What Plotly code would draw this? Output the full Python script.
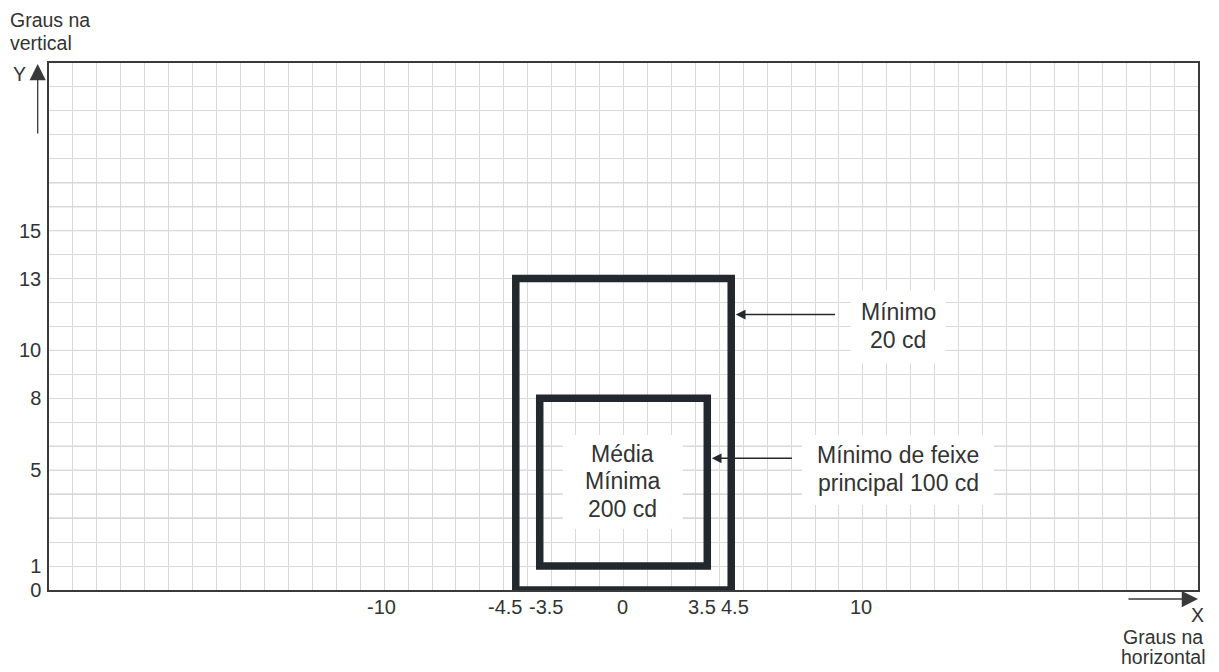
import plotly.graph_objects as go

# ---------------- data ----------------
x_range = [-24, 24]
y_range = [0, 22]
x_tick_values = [-10, -4.5, -3.5, 0, 3.5, 4.5, 10]
x_tick_labels = ["-10", "-4.5", "-3.5", "0", "3.5", "4.5", "10"]
y_tick_values = [0, 1, 5, 8, 10, 13, 15]
y_tick_labels = ["0", "1", "5", "8", "10", "13", "15"]

zone_names = ["Mínimo 20 cd", "Mínimo de feixe principal 100 cd"]
zone_x0 = [-4.5, -3.5]
zone_x1 = [4.5, 3.5]
zone_y0 = [0, 1]
zone_y1 = [13, 8]

callout_lines = [["Mínimo", "20 cd"],
                 ["Mínimo de feixe", "principal 100 cd"],
                 ["Média", "Mínima", "200 cd"]]
emphasis_rows = [3, 4, 6, 10, 11, 16, 17]
medium_rows = [5, 15]

# ---------------- style ----------------
FONT = "Liberation Sans, Arial, sans-serif"
TXT = "#333333"
BOX = "#23282e"
W, H = 1219, 672
L, R, T, B = 49, 21, 63, 82
PW, PH = W - L - R, H - T - B


def px(xp):
    return (xp - L) / PW


def py(yp):
    return (H - B - yp) / PH


fig = go.Figure()

shapes = []
for yv in emphasis_rows:
    shapes.append(dict(type="line", xref="x", yref="y", x0=x_range[0], x1=x_range[1], y0=yv, y1=yv,
                       line=dict(color="#b0b0b0", width=1), layer="below"))
for yv in medium_rows:
    shapes.append(dict(type="line", xref="x", yref="y", x0=x_range[0], x1=x_range[1], y0=yv, y1=yv,
                       line=dict(color="#c4c4c4", width=1), layer="below"))

# callout placement: (x centre [data], y centre [data], box width px, box height px)
callout_pos = [(11.47, 10.98, 95, 73), (11.47, 5.01, 192, 70), (-0.03, 4.5, 120, 94)]
LINE_PITCH = 27.5
for (cx, cy, bw, bh) in callout_pos:
    shapes.append(dict(type="rect", xref="x", yref="y", xsizemode="pixel", ysizemode="pixel",
                       xanchor=cx, yanchor=cy, x0=-bw / 2, x1=bw / 2, y0=-bh / 2, y1=bh / 2,
                       fillcolor="white", line=dict(width=0), layer="above"))

for i in range(len(zone_names)):
    shapes.append(dict(type="rect", xref="x", yref="y",
                       x0=zone_x0[i], x1=zone_x1[i], y0=zone_y0[i], y1=zone_y1[i],
                       line=dict(color=BOX, width=7.5), fillcolor="rgba(0,0,0,0)", layer="above"))

# invisible traces carrying the zones (hover names)
for i in range(len(zone_names)):
    fig.add_trace(go.Scatter(
        x=[zone_x0[i], zone_x1[i], zone_x1[i], zone_x0[i], zone_x0[i]],
        y=[zone_y0[i], zone_y0[i], zone_y1[i], zone_y1[i], zone_y0[i]],
        mode="lines", line=dict(color="rgba(0,0,0,0)", width=1),
        name=zone_names[i], hoverinfo="name", showlegend=False))

annotations = []

# x tick labels (nudged apart where they would collide)
x_nudge = {-10: -3, -4.5: -11, -3.5: 6, 0: -1, 3.5: -5, 4.5: 4, 10: -2}
for v, t in zip(x_tick_values, x_tick_labels):
    annotations.append(dict(x=v, y=0, xref="x", yref="paper", text=t, showarrow=False,
                            xanchor="center", yanchor="middle", xshift=x_nudge.get(v, 0), yshift=-17,
                            font=dict(family=FONT, size=20, color=TXT), borderpad=0))

# callout texts, one annotation per line
for lines, (cx, cy, bw, bh) in zip(callout_lines, callout_pos):
    n = len(lines)
    for k, t in enumerate(lines):
        annotations.append(dict(x=cx, y=cy, xref="x", yref="y", text=t, showarrow=False,
                                xanchor="center", yanchor="middle", borderpad=0,
                                yshift=((n - 1) / 2 - k) * LINE_PITCH + 1,
                                font=dict(family=FONT, size=23, color=TXT)))

# callout arrows (tip at the outer edge of each zone)
arrow_y = [11.5, 5.5]
arrow_tail_x = [8.9, 7.1]
for i in range(len(zone_names)):
    annotations.append(dict(x=zone_x1[i], y=arrow_y[i], xref="x", yref="y",
                            ax=arrow_tail_x[i], ay=arrow_y[i], axref="x", ayref="y",
                            text="", showarrow=True, arrowhead=2, arrowsize=1.5, arrowwidth=1.3,
                            arrowcolor=BOX, standoff=4.5))

# axis direction arrows
annotations.append(dict(x=px(37.7), y=py(64), xref="paper", yref="paper", ax=0, ay=71,
                        text="", showarrow=True, arrowhead=2, arrowsize=2.5, arrowwidth=1.3,
                        arrowcolor="#3a3a3a"))
annotations.append(dict(x=px(1198), y=py(599), xref="paper", yref="paper", ax=-71, ay=0,
                        text="", showarrow=True, arrowhead=2, arrowsize=2.5, arrowwidth=1.3,
                        arrowcolor="#3a3a3a"))


def label(text, xp, yp, anchor="center"):
    annotations.append(dict(x=px(xp), y=py(yp), xref="paper", yref="paper", text=text,
                            showarrow=False, xanchor=anchor, yanchor="middle", borderpad=0,
                            font=dict(family=FONT, size=19.5, color=TXT)))


label("Graus na", 9, 20, "left")
label("vertical", 9, 43, "left")
label("Y", 19, 74)
label("X", 1197, 615)
label("Graus na", 1163, 637)
label("horizontal", 1163, 657)

fig.update_layout(
    width=W, height=H,
    margin=dict(l=L, r=R, t=T, b=B),
    paper_bgcolor="white", plot_bgcolor="white",
    showlegend=False,
    shapes=shapes, annotations=annotations,
    xaxis=dict(range=x_range, tickmode="linear", tick0=0, dtick=1, showticklabels=False,
               showgrid=True, gridcolor="#d9d9d9", gridwidth=1, zeroline=False,
               showline=True, linecolor="#3a3a3a", linewidth=1.5, mirror=True, ticks=""),
    yaxis=dict(range=y_range, tickmode="array", tickvals=y_tick_values, ticktext=y_tick_labels,
               showgrid=True, gridcolor="#d9d9d9", gridwidth=1, zeroline=False,
               minor=dict(tickmode="linear", tick0=0, dtick=1, showgrid=True, gridcolor="#d9d9d9", gridwidth=1),
               showline=True, linecolor="#3a3a3a", linewidth=1.5, mirror=True, ticks="",
               ticklabelstandoff=2,
               tickfont=dict(family=FONT, size=20, color=TXT)),
    font=dict(family=FONT, color=TXT),
)

fig.write_html("out.html", config={"displayModeBar": False},
               post_script="document.body.style.margin='0px';document.body.style.overflow='hidden';")
